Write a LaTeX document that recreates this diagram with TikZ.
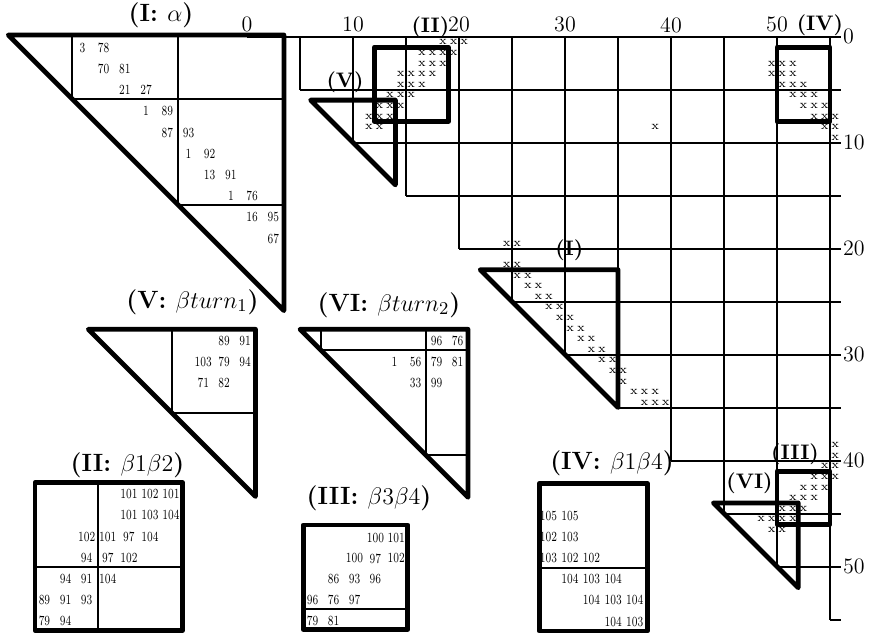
\documentclass[tikz,border=0pt]{standalone}
\usepackage{graphicx}
\newcommand\nm[1]{\scalebox{0.72}[1]{#1}}
\tikzset{
  gridl/.style={line width=1pt},
  ithin/.style={line width=1pt},
  thickl/.style={line width=2.4pt, line join=round},
  axl/.style={font=\fontsize{11}{12}\selectfont, inner sep=0.5pt},
  xm/.style={font=\fontsize{6}{6}\selectfont, inner sep=0pt},
  num/.style={font=\fontsize{7}{7}\selectfont, inner sep=0pt},
  mlab/.style={font=\fontsize{10.5}{12}\selectfont\bfseries, inner sep=0pt},
  ttl/.style={font=\fontsize{12.5}{14}\selectfont\bfseries, inner sep=0pt}
}
\begin{document}
\begin{tikzpicture}[x=0.5pt,y=-0.5pt, line join=round]
\useasboundingbox (0,0) rectangle (870,632);

% ---------------- main contact map ----------------
\begin{scope}[shift={(123.5pt,-18.25pt)},x=5.3pt,y=-5.3pt]
  \foreach \k in {0,5,...,55} \draw[gridl] (\k,\k) -- (56,\k);
  \foreach \k in {5,10,...,55} \draw[gridl] (\k,0) -- (\k,\k);
  \foreach \k in {0,10,...,50} \node[axl] (top\k) at (\k,-1.1) {\k};
  \foreach \k in {0,10,...,50} \node[axl,anchor=west] (rt\k) at (56.1,\k) {\k};
  \foreach \r/\c in {0/18,0/19,0/20,
    1/16,1/17,1/18,1/19,
    2/16,2/17,2/18,2/49,2/50,2/51,
    3/14,3/15,3/16,3/17,3/49,3/50,3/51,
    4/14,4/15,4/16,4/50,4/51,4/52,
    5/13,5/14,5/15,5/51,5/52,5/53,
    6/12,6/13,6/14,6/52,6/53,6/54,
    7/11,7/12,7/13,7/53,7/54,7/55,
    8/11,8/12,8/38,8/54,8/55,
    9/55,
    19/24,19/25,21/24,21/25,
    22/25,22/26,23/26,23/27,24/27,24/28,25/28,25/29,26/29,26/30,
    27/30,27/31,28/31,28/32,29/32,29/33,30/33,30/34,31/34,31/35,32/35,
    33/36,33/37,33/38,34/37,34/38,34/39,
    38/55,39/55,40/54,40/55,41/53,41/54,41/55,42/52,42/53,42/54,
    43/51,43/52,43/53,44/50,44/51,44/52,45/48,45/49,45/50,45/51,46/49,46/50}
    \node[xm] (x\r-\c) at (\c+0.5,\r+0.55) {x};
  % region outlines
  \draw[thickl] (12,1) rectangle (19,8);
  \draw[thickl] (6,6) -- (14,6) -- (14,14) -- cycle;
  \draw[thickl] (50,1) rectangle (55,8);
  \draw[thickl] (22,22) -- (35,22) -- (35,35) -- cycle;
  \draw[thickl] (50,41) rectangle (55,46);
  \draw[thickl] (44,44) -- (52,44) -- (52,52) -- cycle;
  % region labels
  \node[mlab] (mII) at (17.3,-0.9) {(II)};
  \node[mlab] (mV) at (9.25,4.3) {(V)};
  \node[mlab] (mIV) at (54.05,-1.1) {(IV)};
  \node[mlab] (mI) at (30.4,20.2) {(I)};
  \node[mlab] (mIII) at (51.7,39.4) {(III)};
  \node[mlab] (mVI) at (47.4,42.1) {(VI)};
\end{scope}

% ---------------- inset I : alpha ----------------
\begin{scope}[shift={(-229.05pt,215.7pt)},x=10.6pt,y=-10.6pt]
  \draw[ithin] (25,22) -- (25,25) -- (35,25);
  \draw[ithin] (30,22) -- (30,30) -- (35,30);
  \draw[thickl] (22,22) -- (35,22) -- (35,35) -- cycle;
  \foreach \r/\c/\v in {22/25/3,22/26/78,23/26/70,23/27/81,24/27/21,24/28/27,
    25/28/1,25/29/89,26/29/87,26/30/93,27/30/1,27/31/92,28/31/13,28/32/91,
    29/32/1,29/33/76,30/33/16,30/34/95,31/34/67}
    \node[num] (nI\r-\c) at (\c+0.5,\r+0.6) {\nm{\v}};
\end{scope}

% ---------------- inset V : beta turn 1 ----------------
\begin{scope}[shift={(-18.55pt,-101.95pt)},x=10.45pt,y=-10.45pt]
  \draw[ithin] (10,6) -- (10,10) -- (14,10);
  \draw[thickl] (6,6) -- (14,6) -- (14,14) -- cycle;
  \foreach \r/\c/\v in {6/12/89,6/13/91,7/11/103,7/12/79,7/13/94,8/11/71,8/12/82}
    \node[num] (nV\r-\c) at (\c+0.5,\r+0.55) {\nm{\v}};
\end{scope}

% ---------------- inset VI : beta turn 2 ----------------
\begin{scope}[shift={(-312pt,297.35pt)},x=10.5pt,y=-10.5pt]
  \draw[ithin] (45,44) -- (45,45) -- (52,45);
  \draw[ithin] (50,44) -- (50,50) -- (52,50);
  \draw[thickl] (44,44) -- (52,44) -- (52,52) -- cycle;
  \foreach \r/\c/\v in {44/50/96,44/51/76,45/48/1,45/49/56,45/50/79,45/51/81,46/49/33,46/50/99}
    \node[num] (nVI\r-\c) at (\c+0.5,\r+0.55) {\nm{\v}};
\end{scope}

% ---------------- inset II : b1 b2 ----------------
\begin{scope}[shift={(-109.1pt,-230.8pt)},x=10.55pt,y=-10.55pt]
  \draw[ithin] (15,1) -- (15,8);
  \draw[ithin] (12,5) -- (19,5);
  \draw[thickl] (12,1) rectangle (19,8);
  \foreach \r/\c/\v in {1/16/101,1/17/102,1/18/101,2/16/101,2/17/103,2/18/104,
    3/14/102,3/15/101,3/16/97,3/17/104,4/14/94,4/15/97,4/16/102,
    5/13/94,5/14/91,5/15/104,6/12/89,6/13/91,6/14/93,7/12/79,7/13/94}
    \node[num] (nII\r-\c) at (\c+0.45,\r+0.55) {\nm{\v}};
\end{scope}

% ---------------- inset III : b3 b4 ----------------
\begin{scope}[shift={(-370.85pt,165.95pt)},x=10.45pt,y=-10.45pt]
  \draw[ithin] (50,45) -- (55,45);
  \draw[thickl] (50,41) rectangle (55,46);
  \foreach \r/\c/\v in {41/53/100,41/54/101,42/52/100,42/53/97,42/54/102,
    43/51/86,43/52/93,43/53/96,44/50/96,44/51/76,44/52/97,45/50/79,45/51/81}
    \node[num] (nIII\r-\c) at (\c+0.45,\r+0.6) {\nm{\v}};
\end{scope}

% ---------------- inset IV : b1 b4 ----------------
\begin{scope}[shift={(-270.35pt,-231.1pt)},x=10.8pt,y=-10.55pt]
  \draw[ithin] (50,5) -- (55,5);
  \draw[thickl] (50,1) rectangle (55,8);
  \foreach \r/\c/\v in {2/50/105,2/51/105,3/50/102,3/51/103,4/50/103,4/51/102,4/52/102,
    5/51/104,5/52/103,5/53/104,6/52/104,6/53/103,6/54/104,7/53/104,7/54/103}
    \node[num] (nIV\r-\c) at (\c+0.42,\r+0.55) {\nm{\v}};
\end{scope}

% ---------------- inset titles ----------------
\node[ttl] (tI) at (161,15) {(I: $\alpha$)};
\node[ttl] (tV) at (192.5,302) {(V: $\beta turn_1$)};
\node[ttl] (tVI) at (389,305) {(VI: $\beta turn_2$)};
\node[ttl] (tII) at (127.5,465) {(II: $\beta1\beta2$)};
\node[ttl] (tIII) at (369,498) {(III: $\beta3\beta4$)};
\node[ttl] (tIV) at (612,463) {(IV: $\beta1\beta4$)};
\end{tikzpicture}
\end{document}
